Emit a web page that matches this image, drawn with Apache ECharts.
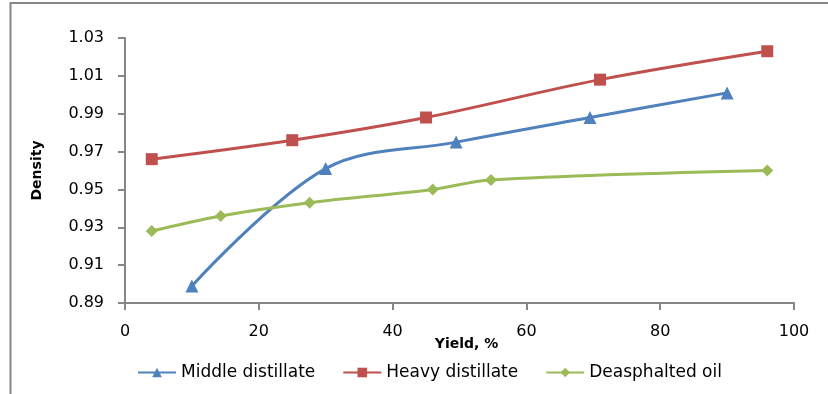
<!DOCTYPE html>
<html>
<head>
<meta charset="utf-8">
<script src="https://cdn.jsdelivr.net/npm/echarts@6/dist/echarts.min.js"></script>
<style>
  html, body { margin: 0; padding: 0; background: #fff; }
  #chart { width: 828px; height: 394px; }
</style>
</head>
<body>
<div id="chart"></div>
<script>
// Density vs. yield for three petroleum fractions
const seriesNames = ['Middle distillate', 'Heavy distillate', 'Deasphalted oil'];

const middleYield = [10, 30, 49.5, 69.5, 90];
const middleDensity = [0.899, 0.961, 0.975, 0.988, 1.001];

const heavyYield = [4, 25, 45, 71, 96];
const heavyDensity = [0.966, 0.976, 0.988, 1.008, 1.023];

const deoilYield = [4, 14.3, 27.6, 46, 54.7, 96];
const deoilDensity = [0.928, 0.936, 0.943, 0.950, 0.955, 0.960];

const xTicks = { min: 0, max: 100, step: 20 };
const yTicks = { min: 0.89, max: 1.03, step: 0.02 };

const pair = (xs, ys) => xs.map((x, i) => [x, ys[i]]);

const axisGray = '#868686';
const font = 'DejaVu Sans';

const chart = echarts.init(document.getElementById('chart'));
chart.setOption({
  animation: false,
  backgroundColor: '#fff',
  graphic: [{
    type: 'rect',
    shape: { x: 10.5, y: 3, width: 840, height: 420 },
    style: { fill: 'none', stroke: axisGray, lineWidth: 2 },
    silent: true
  }],
  grid: { left: 125, right: 34, top: 38, bottom: 91 },
  xAxis: {
    type: 'value',
    min: xTicks.min, max: xTicks.max, interval: xTicks.step,
    name: 'Yield, %',
    nameLocation: 'middle',
    nameGap: 34,
    nameMoveOverlap: false,
    nameTextStyle: { fontFamily: font, fontSize: 14, fontWeight: 'bold', color: '#000', padding: [0, 0, 0, 14] },
    axisLine: { lineStyle: { color: axisGray, width: 2 } },
    axisTick: { show: true, length: 7, lineStyle: { color: axisGray, width: 2 } },
    axisLabel: { margin: 21, fontFamily: font, fontSize: 16, color: '#000' },
    splitLine: { show: false }
  },
  yAxis: {
    type: 'value',
    min: yTicks.min, max: yTicks.max, interval: yTicks.step,
    name: 'Density',
    nameLocation: 'middle',
    nameRotate: 90,
    nameGap: 81,
    nameMoveOverlap: false,
    nameTextStyle: { fontFamily: font, fontSize: 14, fontWeight: 'bold', color: '#000' },
    axisLine: { show: true, lineStyle: { color: axisGray, width: 2 } },
    axisTick: { show: true, length: 7, lineStyle: { color: axisGray, width: 2 } },
    axisLabel: { margin: 21, fontFamily: font, fontSize: 16, color: '#000',
      formatter: v => v.toFixed(2) },
    splitLine: { show: false }
  },
  legend: {
    left: 132, top: 359,
    itemWidth: 38, itemHeight: 12, itemGap: 27,
    textStyle: { fontFamily: font, fontSize: 17, color: '#000' },
    data: seriesNames
  },
  series: [
    {
      name: seriesNames[0], type: 'line', smooth: 0.35,
      data: pair(middleYield, middleDensity),
      symbol: 'triangle', symbolSize: 13,
      lineStyle: { color: '#4F81BD', width: 3 },
      itemStyle: { color: '#4F81BD' }
    },
    {
      name: seriesNames[1], type: 'line', smooth: 0.35,
      data: pair(heavyYield, heavyDensity),
      symbol: 'rect', symbolSize: 12,
      lineStyle: { color: '#C0504D', width: 3 },
      itemStyle: { color: '#C0504D' }
    },
    {
      name: seriesNames[2], type: 'line', smooth: 0.35,
      data: pair(deoilYield, deoilDensity),
      symbol: 'diamond', symbolSize: 12,
      lineStyle: { color: '#9BBB59', width: 3 },
      itemStyle: { color: '#9BBB59' }
    }
  ]
});
</script>
</body>
</html>
